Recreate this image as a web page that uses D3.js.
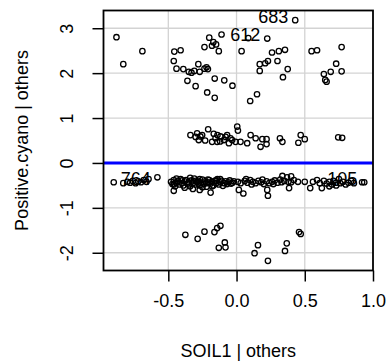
<!DOCTYPE html>
<html>
<head>
<meta charset="utf-8">
<script src="https://cdn.jsdelivr.net/npm/d3@7"></script>
<style>
  body { margin: 0; background: #fff; }
  svg { font-family: "Liberation Sans", Arial, Helvetica, sans-serif; }
</style>
</head>
<body>
<svg id="vis" width="388" height="364"></svg>
<script>
// added-variable plot: SOIL1 | others vs Positive.cyano | others
const topCluster = [
  [-0.88,2.80],[-0.69,2.49],[-0.83,2.20],[-0.456,2.48],[-0.41,2.51],[-0.46,2.27],[-0.44,2.10],
  [-0.39,2.09],[-0.35,2.03],[-0.33,2.01],[-0.31,2.05],[-0.28,2.20],[-0.27,2.03],[-0.235,2.10],
  [-0.22,2.13],[-0.21,2.09],[-0.235,2.58],[-0.20,2.79],[-0.18,2.61],[-0.17,2.69],[-0.15,2.64],
  [-0.13,2.49],[-0.11,2.86],[-0.36,1.83],[-0.30,1.71],[-0.16,1.88],[-0.09,1.84],[-0.03,1.72],
  [-0.215,1.57],[-0.16,1.45],[0.037,2.49],[0.086,2.78],[0.225,2.77],[0.43,3.18],[0.26,2.46],
  [0.31,2.49],[0.355,2.52],[0.17,2.20],[0.21,2.22],[0.23,2.27],[0.17,2.05],[0.30,2.27],
  [0.375,2.09],[0.34,1.91],[0.55,2.49],[0.59,2.51],[0.77,2.58],[0.73,2.21],[0.69,2.03],
  [0.77,2.04],[0.64,1.98],[0.65,1.85],[0.66,1.81],[0.10,1.38],[0.15,1.53]
];

const upperBand = [
  [-0.338,0.62],[-0.289,0.66],[-0.265,0.59],[-0.277,0.51],[-0.252,0.62],[-0.208,0.75],
  [-0.167,0.65],[-0.154,0.55],[-0.179,0.47],[-0.142,0.47],[-0.118,0.59],[-0.093,0.51],
  [-0.069,0.62],[-0.044,0.55],[-0.056,0.44],[-0.032,0.51],[0.005,0.81],[0.01,0.72],
  [-0.007,0.47],[0.029,0.47],[0.078,0.44],[0.103,0.62],[0.14,0.55],[0.176,0.36],
  [0.189,0.53],[0.22,0.42],[0.22,0.53],[0.318,0.55],[0.336,0.47],[0.453,0.45],
  [0.47,0.62],[0.50,0.53],[0.745,0.57],[0.774,0.56],
  [-0.30,0.58],[-0.23,0.50],[-0.12,0.48],[-0.08,0.58],[-0.14,0.62]
];

const lowerBand = [
  // left group
  [-0.90,-0.43],[-0.83,-0.45],[-0.80,-0.42],[-0.78,-0.44],[-0.76,-0.40],[-0.74,-0.45],
  [-0.72,-0.41],[-0.70,-0.43],[-0.68,-0.38],[-0.66,-0.42],[-0.645,-0.36],[-0.58,-0.32],
  // main cluster
  [-0.48,-0.42],[-0.47,-0.47],[-0.46,-0.38],[-0.45,-0.52],[-0.44,-0.44],[-0.43,-0.40],
  [-0.42,-0.48],[-0.41,-0.36],[-0.40,-0.45],[-0.39,-0.50],[-0.38,-0.41],[-0.37,-0.38],
  [-0.36,-0.46],[-0.35,-0.43],[-0.34,-0.52],[-0.33,-0.39],[-0.32,-0.45],[-0.31,-0.35],
  [-0.30,-0.48],[-0.29,-0.42],[-0.28,-0.40],[-0.27,-0.50],[-0.26,-0.44],[-0.25,-0.37],
  [-0.24,-0.47],[-0.23,-0.41],[-0.22,-0.53],[-0.21,-0.43],[-0.20,-0.38],[-0.19,-0.46],
  [-0.18,-0.42],[-0.17,-0.50],[-0.16,-0.40],[-0.15,-0.45],[-0.14,-0.36],[-0.13,-0.48],
  [-0.12,-0.43],[-0.11,-0.40],[-0.10,-0.51],[-0.09,-0.45],[-0.08,-0.41],[-0.07,-0.47],
  [-0.06,-0.43],[-0.05,-0.39],[-0.04,-0.46],[-0.03,-0.44],[-0.02,-0.41],
  [-0.44,-0.35],[-0.38,-0.55],[-0.34,-0.33],[-0.30,-0.40],[-0.27,-0.36],[-0.25,-0.54],
  [-0.21,-0.37],[-0.18,-0.52],[-0.15,-0.39],[-0.12,-0.36],[-0.35,-0.48],[-0.28,-0.46],
  [-0.22,-0.45],[-0.40,-0.39],[-0.46,-0.48],
  [-0.46,-0.62],[-0.19,-0.66],[-0.32,-0.58],[-0.27,-0.60],
  // middle right
  [0.01,-0.42],[0.017,-0.60],[0.05,-0.68],[0.03,-0.45],[0.06,-0.40],[0.08,-0.44],
  [0.10,-0.38],[0.12,-0.42],[0.14,-0.45],[0.16,-0.40],[0.18,-0.43],[0.20,-0.47],
  [0.225,-0.60],[0.23,-0.73],[0.22,-0.41],[0.24,-0.45],[0.26,-0.42],[0.28,-0.39],
  [0.30,-0.44],[0.32,-0.37],[0.336,-0.29],[0.35,-0.40],[0.37,-0.32],[0.385,-0.56],
  [0.38,-0.42],[0.40,-0.30],[0.40,-0.43],[0.42,-0.38],[0.45,-0.42],[0.11,-0.48],
  [0.07,-0.36],[0.19,-0.37],[0.27,-0.47],[0.33,-0.43],
  // far right
  [0.50,-0.42],[0.54,-0.56],[0.56,-0.42],[0.59,-0.38],[0.61,-0.45],[0.625,-0.56],
  [0.64,-0.40],[0.66,-0.46],[0.68,-0.42],[0.70,-0.48],[0.71,-0.40],[0.73,-0.44],
  [0.75,-0.36],[0.76,-0.45],[0.78,-0.42],[0.80,-0.48],[0.82,-0.44],[0.84,-0.40],
  [0.86,-0.45],[0.92,-0.43],[0.936,-0.43],[0.68,-0.52],[0.73,-0.50]
];

const bottomCluster = [
  [-0.375,-1.60],[-0.285,-1.69],[-0.235,-1.53],[-0.162,-1.54],[-0.142,-1.45],[-0.118,-1.40],
  [-0.13,-1.89],[-0.086,-1.77],[-0.081,-1.88],[0.132,-2.01],[0.157,-1.83],[0.23,-2.18],
  [0.355,-1.96],[0.368,-1.79],[0.458,-1.54],[0.47,-1.58]
];

// labelled observations
const labelIds = ["683", "612", "764", "105"];
const labelX   = [0.43, 0.225, -0.90, 0.936];
const labelY   = [3.18, 2.77, -0.43, -0.43];

// fitted line (intercept, slope)
const lineIntercept = 0;
const lineSlope = 0;

const xTicks = [-0.5, 0.0, 0.5, 1.0];
const yTicks = [-2, -1, 0, 1, 2, 3];
const xTitle = "SOIL1 | others";
const yTitle = "Positive.cyano | others";

const svg = d3.select("#vis");
const width = 388, height = 364;
const margin = { top: 10.5, right: 15, bottom: 93.5, left: 103.5 };

const x = d3.scaleLinear()
  .domain([-0.975, 1.0])
  .range([margin.left, width - margin.right]);
const y = d3.scaleLinear()
  .domain([-2.395, 3.395])
  .range([height - margin.bottom, margin.top]);

const allPts = topCluster.concat(upperBand, lowerBand, bottomCluster);

// grid
const grid = svg.append("g").attr("stroke", "#d3d3d3").attr("stroke-width", 1.3);
grid.selectAll("line.gx").data(xTicks.filter(d => d < 1.0)).enter().append("line")
  .attr("x1", d => x(d)).attr("x2", d => x(d))
  .attr("y1", margin.top).attr("y2", height - margin.bottom);
grid.selectAll("line.gy").data(yTicks).enter().append("line")
  .attr("y1", d => y(d)).attr("y2", d => y(d))
  .attr("x1", margin.left).attr("x2", width - margin.right);

// points
svg.append("g").selectAll("circle").data(allPts).enter().append("circle")
  .attr("cx", d => x(d[0]))
  .attr("cy", d => y(d[1]))
  .attr("r", 2.7)
  .attr("fill", "none")
  .attr("stroke", "#000")
  .attr("stroke-width", 1.3);

// regression line
const x0 = x.domain()[0], x1 = x.domain()[1];
svg.append("line")
  .attr("x1", x(x0)).attr("x2", x(x1))
  .attr("y1", y(lineIntercept + lineSlope * x0))
  .attr("y2", y(lineIntercept + lineSlope * x1))
  .attr("stroke", "#0000ff")
  .attr("stroke-width", 3);

// point labels
const mid = (x0 + x1) / 2;
svg.append("g").selectAll("text").data(labelIds).enter().append("text")
  .attr("x", (d, i) => labelX[i] > mid ? x(labelX[i]) - 7 : x(labelX[i]) + 7)
  .attr("y", (d, i) => y(labelY[i]) + 2.5)
  .attr("text-anchor", (d, i) => labelX[i] > mid ? "end" : "start")
  .attr("font-size", 18)
  .attr("fill", "#000")
  .text(d => d);

// axes
const eixo_x = d3.axisBottom(x).tickValues(xTicks).tickSize(11).tickFormat(d => d.toFixed(1));
const $eixo_x = svg.append("g")
  .attr("transform", "translate(0," + (height - margin.bottom) + ")")
  .call(eixo_x);
$eixo_x.select(".domain").remove();
$eixo_x.selectAll("line").attr("stroke", "#000").attr("stroke-width", 1.5);
$eixo_x.selectAll("text")
  .attr("y", 36).attr("dy", null)
  .attr("font-size", 18).attr("font-family", null).attr("fill", "#000");

const eixo_y = d3.axisLeft(y).tickValues(yTicks).tickSize(11).tickFormat(d => String(d));
const $eixo_y = svg.append("g")
  .attr("transform", "translate(" + margin.left + ",0)")
  .call(eixo_y);
$eixo_y.select(".domain").remove();
$eixo_y.selectAll("line").attr("stroke", "#000").attr("stroke-width", 1.5);
$eixo_y.selectAll("text")
  .attr("x", null).attr("dy", null)
  .attr("text-anchor", "middle")
  .attr("transform", "translate(-30.5,0) rotate(-90)")
  .attr("font-size", 18).attr("font-family", null).attr("fill", "#000");

// box
svg.append("rect")
  .attr("x", margin.left).attr("y", margin.top)
  .attr("width", width - margin.left - margin.right)
  .attr("height", height - margin.top - margin.bottom)
  .attr("fill", "none").attr("stroke", "#000").attr("stroke-width", 1.8);

// titles
svg.append("text")
  .attr("x", (margin.left + width - margin.right) / 2)
  .attr("y", 357)
  .attr("text-anchor", "middle")
  .attr("font-size", 18)
  .text(xTitle);

svg.append("text")
  .attr("transform", "translate(28," + (margin.top + height - margin.bottom) / 2 + ") rotate(-90)")
  .attr("text-anchor", "middle")
  .attr("font-size", 18)
  .text(yTitle);
</script>
</body>
</html>
